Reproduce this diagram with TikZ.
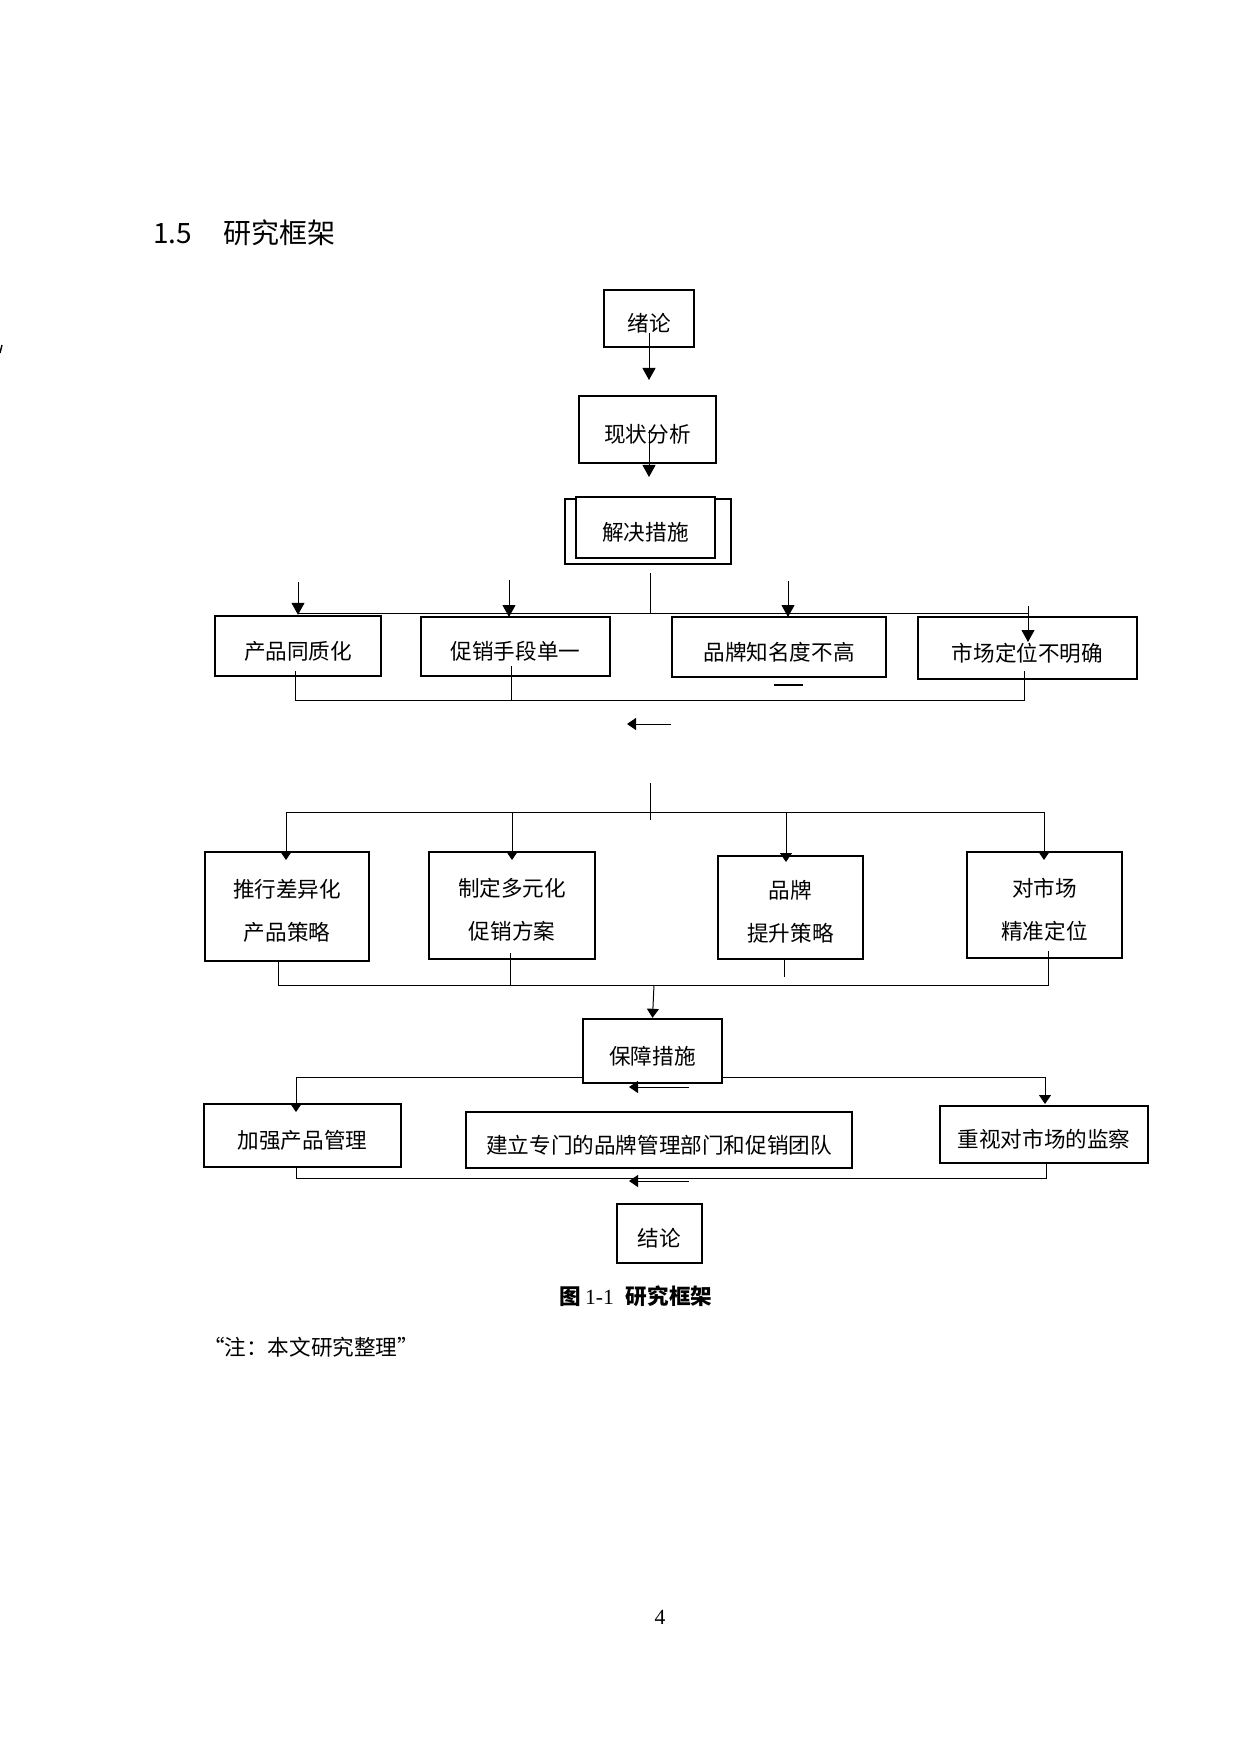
\documentclass[tikz,border=0pt]{standalone}
\usepackage{fontspec}
\setmainfont{Liberation Serif}
\newfontfamily\cjk{Noto Sans CJK SC}
\usetikzlibrary{arrows.meta, shapes}

\begin{document}
\begin{tikzpicture}[x=0.5pt, y=-0.5pt,
  box/.style={draw, line width=1.2pt, inner sep=0pt, align=center, fill=white,
    font=\cjk\fontsize{10.8}{21.5}\selectfont, execute at begin node={\rule{0pt}{14pt}}},
  conn/.style={line width=0.5pt},
  arr/.style={conn, -{Triangle[width=6.5pt,length=6pt]}},
  sarr/.style={conn, -{Triangle[width=6pt,length=4.5pt]}}]
\useasboundingbox (0,0) rectangle (1240,1754);

% title and page
\node[anchor=west, font=\cjk\fontsize{14}{16}\selectfont] (T) at (146,233) {1.5\hspace{16pt}研究框架};
\draw[line width=0.7pt] (0,353) -- (2,345);

% top chain
\node[box, minimum width=45pt, minimum height=28.5pt] (A) at (649,318.5) {绪论};
\node[box, minimum width=68.5pt, minimum height=33.5pt] (B) at (647.5,429.5) {现状分析};
\node[box, minimum width=83pt, minimum height=32.5pt] (C0) at (648,531.5) {};
\node[box, minimum width=69.5pt, minimum height=30.5pt] (C) at (645.5,527.5) {解决措施};

\coordinate (a1) at (649,333);  \coordinate (a2) at (649,380);
\coordinate (b1) at (649,430);  \coordinate (b2) at (649,477);
\draw[arr] (a1) -- (a2);
\draw[arr] (b1) -- (b2);

% problems
\node[box, minimum width=83pt, minimum height=30pt] (P1) at (298,646) {产品同质化};
\node[box, minimum width=94.5pt, minimum height=29.5pt] (P2) at (515.5,646.5) {促销手段单一};
\node[box, minimum width=107pt, minimum height=30pt] (P3) at (779,647) {品牌知名度不高};
\node[box, minimum width=109.5pt, minimum height=31pt] (P4) at (1027.5,648) {市场定位不明确};

\coordinate (c1) at (650,573);  \coordinate (c2) at (650,613);
\coordinate (h1) at (298,613);  \coordinate (h2) at (1028,613);
\draw[conn] (c1) -- (c2);
\draw[conn] (h1) -- (h2);
\draw[arr] (298,582) -- (P1.north);
\draw[arr] (509,580) -- (509,617);
\draw[arr] (788,581) -- (788,617);
\draw[arr] (1028,606) -- (1028,642);

\coordinate (d1) at (295,700);  \coordinate (d2) at (1024,700);
\draw[conn] (295,671) -- (d1) -- (d2) -- (1024,671);
\draw[conn] (511,666) -- (511,700);
\draw[line width=1pt] (774,685) -- (803,685);
\draw[sarr] (671,724) -- (627,724);

% strategies
\coordinate (e1) at (650,783);  \coordinate (e2) at (650,820);
\draw[conn] (e1) -- (e2);
\draw[conn] (286,812) -- (1044,812);

\node[box, minimum width=82pt, minimum height=54.5pt] (S1) at (287,906.5) {\rule{0pt}{13.5pt}推行差异化\\产品策略};
\node[box, minimum width=83pt, minimum height=53.5pt] (S2) at (512,905.5) {\rule{0pt}{13.5pt}制定多元化\\促销方案};
\node[box, minimum width=72.5pt, minimum height=51.5pt] (S3) at (790.5,907.5) {\rule{0pt}{13.5pt}品牌\\提升策略};
\node[box, minimum width=77.5pt, minimum height=53pt] (S4) at (1044.5,905) {\rule{0pt}{13.5pt}对市场\\精准定位};

\draw[sarr] (286,812) -- (286,860);
\draw[sarr] (512,812) -- (512,860);
\draw[sarr] (786,812) -- (786,862);
\draw[sarr] (1044,812) -- (1044,860);

\coordinate (f1) at (278,985);  \coordinate (f2) at (1048,985);
\draw[conn] (278,961) -- (f1) -- (f2) -- (1048,951);
\draw[conn] (510,953) -- (510,985);
\draw[conn] (784,959) -- (784,977);

% guarantee
\node[box, minimum width=69.5pt, minimum height=32pt] (G) at (652.5,1051) {保障措施};
\draw[sarr] (654,985) -- (G.north);

\node[box, minimum width=98.5pt, minimum height=31.5pt] (H1) at (302.5,1135.5) {加强产品管理};
\node[box, minimum width=193pt, minimum height=28pt] (H2) at (659,1140) {建立专门的品牌管理部门和促销团队};
\node[box, minimum width=104pt, minimum height=28.5pt] (H3) at (1044,1134.5) {重视对市场的监察};

\coordinate (g1) at (583,1077);  \coordinate (g2) at (296,1077);
\coordinate (g3) at (722,1077);  \coordinate (g4) at (1045,1077);
\draw[sarr] (g1) -- (g2) -- (296,1112);
\draw[sarr] (g3) -- (g4) -- (1045,1104);
\draw[sarr] (689,1087) -- (629,1087);

\coordinate (k1) at (296,1178);  \coordinate (k2) at (1046,1178);
\draw[conn] (H1.south -| k1) -- (k1) -- (k2) -- (1046,1162);
\draw[sarr] (689,1181) -- (629,1181);

\node[box, minimum width=42.5pt, minimum height=29.5pt] (J) at (659.5,1233.5) {结论};

% caption and note
\node[font=\fontsize{10.8}{13}\selectfont] (L) at (636,1296) {{\cjk\bfseries 图}\,1-1\hspace{6pt}{\cjk\bfseries 研究框架}};
\node[anchor=west, font=\cjk\fontsize{10.8}{13}\selectfont] (N) at (196,1347) {“注：本文研究整理”};
\node[font=\fontsize{10.8}{13}\selectfont] (pg) at (660,1617) {4};
\end{tikzpicture}
\end{document}
